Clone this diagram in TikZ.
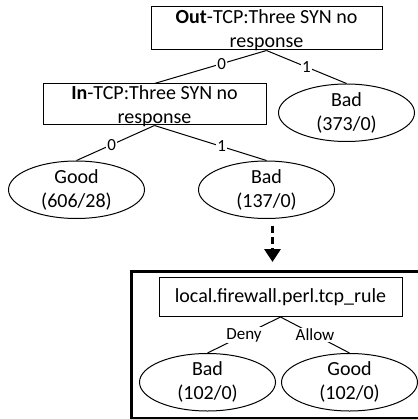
\documentclass[tikz,border=0pt]{standalone}
\usepackage{fontspec}
\setmainfont{Carlito}
\usetikzlibrary{shapes,arrows.meta,positioning}

\begin{document}
\begin{tikzpicture}[
    x=1pt, y=-1pt,
    font=\fontsize{20}{24}\selectfont,
    testbox/.style={rectangle, draw, line width=1pt, inner sep=0pt, align=center},
    leaf/.style={ellipse, draw, line width=1pt, inner sep=0pt, minimum width=136pt, minimum height=54pt, align=center},
    edge/.style={line width=1pt},
    branch/.style={fill=white, inner sep=1pt, font=\fontsize{17}{20}\selectfont},
    dasharrow/.style={line width=3.5pt, dash pattern=on 7pt off 4pt, -{Triangle[width=16pt,length=13pt]}},
    bigframe/.style={rectangle, draw, line width=3pt, anchor=north west}
]
    \useasboundingbox (0,0) rectangle (417,419);

    % first tree
    \node[testbox, minimum width=231pt, text height=40.7pt, text depth=2.3pt] (out) at (266.5,28.5) {\textbf{Out}-TCP:Three SYN no\\response};
    \node[testbox, minimum width=223pt, text height=39.7pt, text depth=1.3pt, anchor=north east] (in) at ([yshift=-33pt]out.south) {\textbf{In}-TCP:Three SYN no\\response};
    \node[leaf, anchor=north] (bad1) at ([xshift=80pt]in.north east) {Bad\\(373/0)};
    \node[leaf, anchor=north] (good1) at ([shift={(-78pt,-35pt)}]in.south) {Good\\(606/28)};
    \node[leaf, anchor=north] (bad2) at ([shift={(112pt,-35pt)}]in.south) {Bad\\(137/0)};

    \draw[edge] (out.south) -- node[branch, pos=0.4] {0} (in.north);
    \draw[edge] (out.south) -- node[branch] {1} (bad1.north);
    \draw[edge] (in.south) -- node[branch, pos=0.55] {0} (good1.north);
    \draw[edge] (in.south) -- node[branch, pos=0.6] {1} (bad2.north);

    % zoomed rule
    \node[bigframe, minimum width=296pt, minimum height=147pt] (zoomed) at (130,270) {};
    \node[testbox, minimum width=243pt, minimum height=39pt, anchor=north] (rule) at ([shift={(1pt,-7pt)}]zoomed.north) {local.firewall.perl.tcp\_rule};
    \node[leaf, anchor=north] (bad3) at ([shift={(-73pt,-36pt)}]rule.south) {Bad\\(102/0)};
    \node[leaf, right=5pt of bad3] (good3) {Good\\(102/0)};

    \draw[edge] (rule.south) -- node[branch] {Deny} (bad3.north);
    \draw[edge] (rule.south) -- node[branch] {Allow} (good3.north);

    \coordinate (drop) at ([xshift=6pt]bad2.south);
    \draw[dasharrow] ([yshift=-7pt]drop) -- ([yshift=8pt]drop |- zoomed.north);
\end{tikzpicture}
\end{document}
